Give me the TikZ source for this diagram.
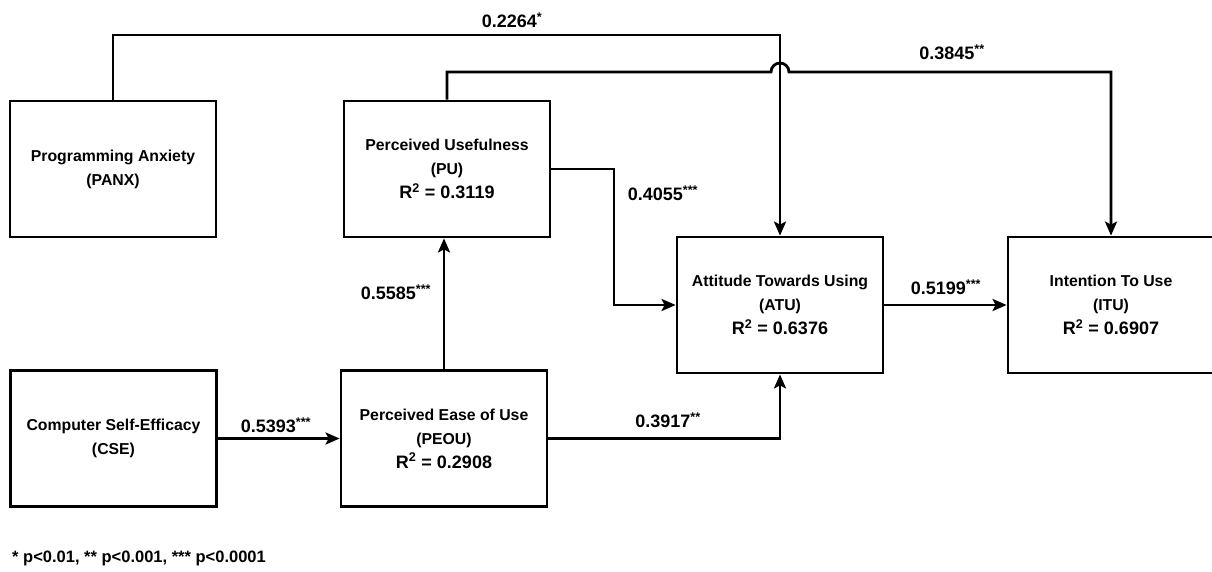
\documentclass[tikz,border=0pt]{standalone}
\usepackage{fontspec}
\setmainfont{Liberation Sans}
\usetikzlibrary{arrows.meta,calc}
\begin{document}
\begin{tikzpicture}[x=1pt,y=-1pt,
  box/.style={draw, line width=2.8pt, minimum width=206pt, minimum height=136pt, align=center,
    font=\bfseries\fontsize{15.8}{24}\selectfont, inner sep=0pt},
  conn/.style={line width=2.8pt},
  arr/.style={conn, -{Stealth[length=14pt,width=12pt,inset=3pt]}},
  lbl/.style={font=\bfseries\fontsize{18}{20}\selectfont, inner sep=0pt},
  rsq/.style={}
]
\clip (0,0) rectangle (1212,572);
\fill[white] (0,0) rectangle (1212,572);

\newcommand{\rline}[1]{{\fontsize{18}{24}\selectfont R\textsuperscript{2} = #1}}

\node[box] (panx) at (113,169) {Programming Anxiety\\(PANX)};
\node[box] (pu) at (447,169) {Perceived Usefulness\\(PU)\\\rline{0.3119}};
\node[box] (cse) at (113.5,438.5) {Computer Self-Efficacy\\(CSE)};
\node[box] (peou) at (444,438.5) {Perceived Ease of Use\\(PEOU)\\\rline{0.2908}};
\node[box] (atu) at (780,305) {Attitude Towards Using\\(ATU)\\\rline{0.6376}};
\node[box] (itu) at (1111,305) {Intention To Use\\(ITU)\\\rline{0.6907}};

\coordinate (t1) at (0,35);
\coordinate (t2) at (0,72);
\coordinate (m1) at (614,169);

\draw[arr] (panx.north) -- (panx.north |- t1) -- (atu.north |- t1) -- (atu.north);
\draw[arr] (pu.north) -- (pu.north |- t2) -- ($(atu.north |- t2)+(-9,0)$)
  arc[start angle=180,end angle=0,radius=9pt] -- (itu.north |- t2) -- (itu.north);
\draw[arr] (pu.east) -- (m1) |- (atu.west);
\draw[arr] (peou.north) -- (peou.north |- pu.south);
\draw[arr] (cse.east) -- (peou.west);
\draw[arr] (peou.east) -| (atu.south);
\draw[arr] (atu.east) -- (itu.west);

\node[lbl] (l1) at (512,20) {0.2264\textsuperscript{*}};
\node[lbl] (l2) at (952,52) {0.3845\textsuperscript{**}};
\node[lbl] (l3) at (663,193) {0.4055\textsuperscript{***}};
\node[lbl] (l4) at (396,292) {0.5585\textsuperscript{***}};
\node[lbl] (l5) at (276,425) {0.5393\textsuperscript{***}};
\node[lbl] (l6) at (668,420) {0.3917\textsuperscript{**}};
\node[lbl] (l7) at (946,287) {0.5199\textsuperscript{***}};

\node[anchor=west, inner sep=0pt, font=\bfseries\fontsize{16.5}{18}\selectfont] (fn) at (12,558)
  {* p<0.01, ** p<0.001, *** p<0.0001};
\end{tikzpicture}
\end{document}
